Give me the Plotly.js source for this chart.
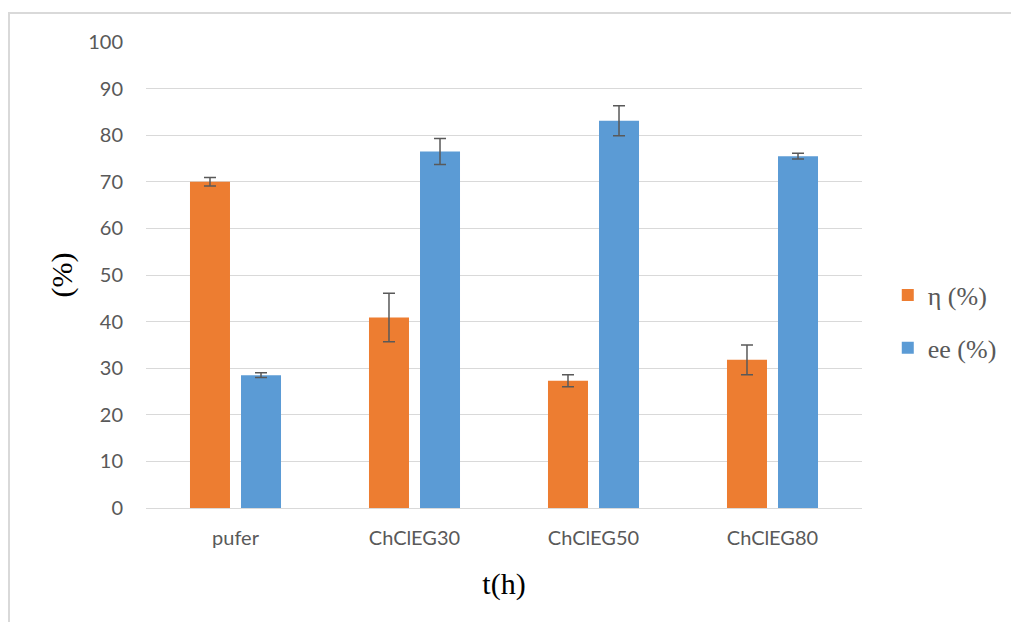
<!DOCTYPE html>
<html>
<head>
<meta charset="utf-8">
<script src="https://cdn.plot.ly/plotly-3.0.1.min.js"></script>
<style>
html,body{margin:0;padding:0;background:#fff;overflow:hidden;}
#frame{position:absolute;left:8px;top:12px;width:1100px;height:700px;border-left:2px solid #d9d9d9;border-top:2px solid #d9d9d9;}
#chart{position:absolute;left:0;top:0;width:1011px;height:622px;}
</style>
</head>
<body>
<div id="frame"></div>
<div id="chart"></div>
<script>
const categories = ['pufer', 'ChClEG30', 'ChClEG50', 'ChClEG80'];
const etaValues = [70.0, 40.9, 27.3, 31.8];
const etaErrors = [0.9, 5.2, 1.3, 3.2];
const eeValues = [28.5, 76.5, 83.1, 75.5];
const eeErrors = [0.5, 2.8, 3.2, 0.6];
const seriesNames = ['η (%)', 'ee (%)'];
const yTicks = [0, 10, 20, 30, 40, 50, 60, 70, 80, 90, 100];

const errStyle = {type: 'data', visible: true, color: '#595959', thickness: 1.5, width: 6};
const serif = 'Liberation Serif';
const sans = 'Lato';

const traces = [
  {type: 'bar', name: seriesNames[0], x: categories, y: etaValues, legendgroup: 'a',
   marker: {color: '#ED7D31'}, error_y: Object.assign({array: etaErrors}, errStyle)},
  {type: 'bar', name: seriesNames[1], x: categories, y: eeValues, legendgroup: 'b',
   marker: {color: '#5B9BD5'}, error_y: Object.assign({array: eeErrors}, errStyle)}
];

const layout = {
  width: 1011, height: 622,
  margin: {l: 146, r: 149, t: 42, b: 114, autoexpand: false},
  paper_bgcolor: 'rgba(0,0,0,0)', plot_bgcolor: 'rgba(0,0,0,0)',
  barmode: 'group', bargap: 0.43, bargroupgap: 0.216,
  font: {family: serif, color: '#595959', size: 26},
  xaxis: {
    showgrid: false, showline: true, linecolor: '#d9d9d9', linewidth: 1,
    ticks: '', ticklabelstandoff: 12,
    tickfont: {family: sans, size: 20, color: '#595959'},
    title: {text: 't(h)', font: {family: serif, size: 30, color: '#000'}, standoff: 24}
  },
  yaxis: {
    range: [0, 100], tickvals: yTicks, showgrid: true, gridcolor: '#d9d9d9', gridwidth: 1,
    zeroline: false, showline: false, ticks: '', ticklabelstandoff: 22,
    tickfont: {family: sans, size: 20, color: '#595959'},
    title: {text: '(%)', font: {family: serif, size: 30, color: '#000'}, standoff: 6}
  },
  showlegend: true,
  legend: {x: 1.036, y: 0.4, xanchor: 'left', yanchor: 'middle', tracegroupgap: 16,
           font: {family: serif, size: 26, color: '#595959'},
           bgcolor: 'rgba(0,0,0,0)', itemwidth: 30}
};

Plotly.newPlot('chart', traces, layout, {displayModeBar: false, staticPlot: true});
</script>
</body>
</html>
